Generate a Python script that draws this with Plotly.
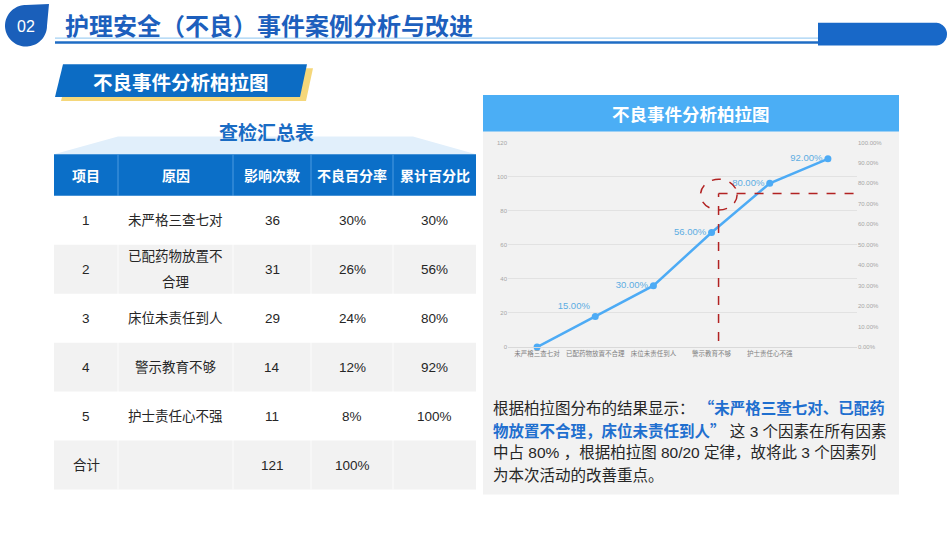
import numpy as np
import plotly.graph_objs as go

# chart data
categories = ["未严格三查七对", "已配药物放置不合理", "床位未责任到人", "警示教育不够", "护士责任心不强", " "]
cum_pct = [0, 15, 30, 56, 80, 92]
left_ticks = [0, 20, 40, 60, 80, 100, 120]

# table data
table_head = ["项目", "原因", "影响次数", "不良百分率", "累计百分比"]
items = ["1", "2", "3", "4", "5", "合计"]
causes = ["未严格三查七对", "已配药物放置不合理", "床位未责任到人", "警示教育不够", "护士责任心不强", ""]
counts = ["36", "31", "29", "14", "11", "121"]
rates = ["30%", "26%", "24%", "12%", "8%", "100%"]
cum_rates = ["30%", "56%", "80%", "92%", "100%", ""]

W, H = 950, 535
CJK = "Noto Sans CJK SC"
LAT = "Liberation Sans, Noto Sans CJK SC"
BLUE = "#0b6fc8"

shapes = []
annotations = []


def path(pts):
    return "M" + "L".join(f"{x / W:.5f},{1 - y / H:.5f}" for x, y in pts) + "Z"


def poly(pts, color, layer="below"):
    shapes.append(dict(type="path", xref="paper", yref="paper", path=path(pts),
                       fillcolor=color, line_width=0, layer=layer))


def rect(x0, y0, x1, y1, color):
    shapes.append(dict(type="rect", xref="paper", yref="paper", x0=x0 / W, x1=x1 / W,
                       y0=1 - y1 / H, y1=1 - y0 / H, fillcolor=color, line_width=0, layer="below"))


def seg(x0, y0, x1, y1, color, width, layer="below"):
    shapes.append(dict(type="line", xref="paper", yref="paper", x0=x0 / W, x1=x1 / W,
                       y0=1 - y0 / H, y1=1 - y1 / H, line=dict(color=color, width=width), layer=layer))


def text(x, y, s, size, color, bold=False, xanchor="center", font=CJK):
    annotations.append(dict(x=x / W, y=1 - y / H, xref="paper", yref="paper", showarrow=False,
                            text=f"<b>{s}</b>" if bold else s, xanchor=xanchor, yanchor="middle",
                            font=dict(family=font, size=size, color=color)))


# page header
t = np.linspace(0, 1.5 * np.pi, 60)
drop = [(26 + 21 * np.cos(a), 23 + 21 * np.sin(a)) for a in t] + [(49, 1)]
poly(drop, "#1a5fba")
text(26, 24, "02", 16, "white", font=LAT)
text(63, 22, "护理安全（不良）事件案例分析与改进", 24, "#1d5fbd", bold=True, xanchor="left")
seg(55, 35.5, 820, 35.5, "#8cc4f0", 1)
seg(55, 40, 820, 40, "#1f6cc4", 2.5)
arc = np.linspace(-0.5 * np.pi, 0.5 * np.pi, 30)
pill = [(818, 20)] + [(935.5 + 11.5 * np.cos(a), 31.5 + 11.5 * np.sin(a)) for a in arc] + [(818, 43)]
poly(pill, "#1868c8")

# section label
poly([(69, 66), (313, 66), (306, 99), (61, 99)], "#f5d77a")
poly([(63, 62), (307, 62), (300, 95), (55, 95)], "#0c6cc4")
text(181, 79, "不良事件分析柏拉图", 19.5, "white", bold=True)

# summary table
poly([(118, 135), (413, 135), (476, 153), (54, 153)], "#e1effb")
text(266, 130, "查检汇总表", 19, "#1a6cc4", bold=True)
col_edges = [54, 118, 233, 311, 393, 476]
head_top, head_bot, row_h = 153, 195, 49.5
rect(col_edges[0], head_top, col_edges[-1], head_bot, BLUE)
for i, lab in enumerate(table_head):
    cx = (col_edges[i] + col_edges[i + 1]) / 2
    text(cx, (head_top + head_bot) / 2, lab, 14, "white", bold=True)
for e in col_edges[1:-1]:
    seg(e, head_top, e, head_bot, "#4d9be0", 1)
columns = [items, causes, counts, rates, cum_rates]
for r in range(len(items)):
    top = head_bot + r * row_h
    if r % 2 == 1:
        rect(col_edges[0], top, col_edges[-1], top + row_h, "#f2f2f2")
    cy = top + row_h / 2
    for c, col in enumerate(columns):
        cx = (col_edges[c] + col_edges[c + 1]) / 2
        s = col[r]
        chunks = [s[k:k + 7] for k in range(0, len(s), 7)] or [""]
        for j, ch in enumerate(chunks):
            text(cx, cy + (j - (len(chunks) - 1) / 2) * 26, ch, 13.5, "#262626", font=LAT)
for e in col_edges[1:-1]:
    seg(e, head_bot, e, head_bot + len(items) * row_h, "rgba(255,255,255,0.8)", 1)

# chart panel
rect(483, 93, 899, 497, "#f2f2f2")
rect(483, 93, 899, 130, "#4baef5")
text(691, 112, "不良事件分析柏拉图", 17.5, "white", bold=True)

hl = 'style="color:#1f6fcf;font-family:Noto Sans CJK SC"'
para = [
    f"根据柏拉图分布的结果显示： <span {hl}><b>“未严格三查七对、已配药</b></span>",
    f"<span {hl}><b>物放置不合理，床位未责任到人”</b></span> 这 3 个因素在所有因素",
    "中占 80% ，根据柏拉图 80/20 定律，故将此 3 个因素列",
    "为本次活动的改善重点。",
]
for i, line in enumerate(para):
    text(491, 409 + i * 23, line, 15.5, "#262626", xanchor="left", font=LAT)

labels = [f"{v:.2f}%" if v else "" for v in cum_pct]
positions = ["middle left"] * len(cum_pct)
positions[1] = "top left"

fig = go.Figure()
fig.add_trace(go.Scatter(x=categories, y=[None] * len(categories), yaxis="y",
                         showlegend=False, hoverinfo="skip"))
fig.add_trace(go.Scatter(
    x=categories, y=cum_pct, yaxis="y2", mode="lines+markers+text",
    line=dict(color="#4dabf5", width=2.5), marker=dict(size=7, color="#4dabf5"),
    text=labels, textposition=positions, cliponaxis=False,
    textfont=dict(family=LAT, size=9.5, color="#5dade2"), showlegend=False,
))

# 80% reference marks
red = dict(color="#b22222", width=1.5, dash="dash")
shapes += [
    dict(type="line", xref="x", yref="y2", x0=3.12, x1=3.12, y0=3, y1=75, line=red),
    dict(type="line", xref="x", yref="y2", x0=3.12, x1=5.5, y0=75, y1=75, line=red),
    dict(type="circle", xref="x", yref="y2", x0=2.81, x1=3.44, y0=67, y1=82, line=red),
]

fig.update_layout(
    width=W, height=H, margin=dict(l=0, r=0, t=0, b=0),
    paper_bgcolor="white", plot_bgcolor="rgba(0,0,0,0)",
    shapes=shapes, annotations=annotations,
    xaxis=dict(domain=[508 / W, 857 / W], type="category", range=[-0.5, 5.5],
               showline=True, linecolor="#d9d9d9", showgrid=False, ticks="",
               tickfont=dict(family=CJK, size=6.5, color="#7f7f7f")),
    yaxis=dict(domain=[1 - 348 / H, 1 - 141 / H], range=[0, 120], tickvals=left_ticks,
               gridcolor="#e2e2e2", zeroline=False, showline=False,
               tickfont=dict(family=LAT, size=6, color="#a6a6a6")),
    yaxis2=dict(overlaying="y", side="right", range=[0, 100], dtick=10,
                tickformat=".2f", ticksuffix="%", showgrid=False, zeroline=False,
                tickfont=dict(family=LAT, size=6, color="#a6a6a6")),
)

fig.write_html("out.html", config={"displayModeBar": False},
               post_script="document.body.style.margin='0';")
